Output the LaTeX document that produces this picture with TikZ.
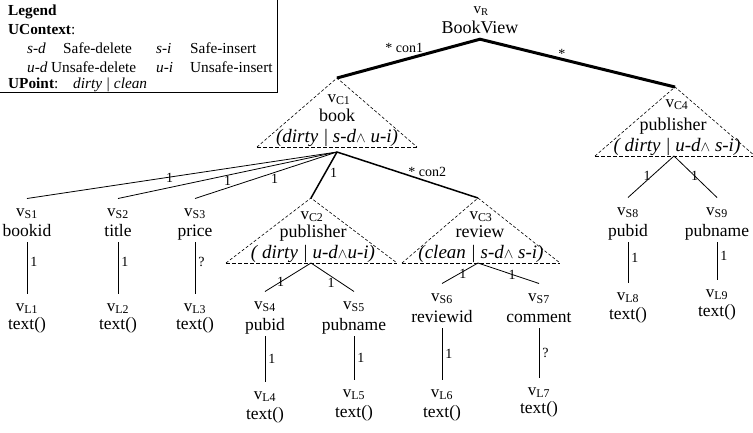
\documentclass[tikz,border=0pt]{standalone}
\usepackage{fontspec}
\setmainfont{Liberation Serif}
\usetikzlibrary{calc}
\newcommand{\andsym}{{\fontsize{15}{15}\selectfont$\wedge$}}
\tikzset{
  vx/.style = {anchor=base, inner xsep=0pt, inner ysep=9.5pt, font=\fontsize{17}{17}\selectfont},
  nm/.style = {anchor=base, inner xsep=0pt, inner ysep=6pt, text depth=0pt, font=\fontsize{17.5}{18}\selectfont},
  cnm/.style = {nm, font=\fontsize{18}{18}\selectfont},
  att/.style = {anchor=base, inner sep=0pt, font=\fontsize{19}{19}\selectfont\itshape},
  lbl/.style = {inner sep=1pt, font=\fontsize{14}{14}\selectfont},
  lgd/.style = {anchor=base west, inner sep=0pt, font=\fontsize{15.3}{16}\selectfont},
  triside/.style = {dash pattern=on 3pt off 2pt, line width=0.6pt},
  tribase/.style = {dash pattern=on 4pt off 2pt, line width=0.9pt},
  thinedge/.style = {line width=0.8pt},
  midedge/.style = {line width=1.5pt},
  heavyedge/.style = {line width=3pt, line join=miter},
}

\begin{document}
\begin{tikzpicture}[x=1pt, y=-1pt]
\useasboundingbox (0,0) rectangle (753,432);

% legend
\draw[line width=0.8pt] (-3,-3) rectangle (277,92);
\node[lgd] (lg) at (8,15) {\textbf{Legend}};
\node[lgd] (lgc) at (8,34) {\textbf{UContext}:};
\node[lgd] (lgsd) at (27,53) {\textit{s-d}};
\node[lgd] (lgsdt) at (63,53) {Safe-delete};
\node[lgd] (lgsi) at (156,53) {\textit{s-i}};
\node[lgd] (lgsit) at (190,53) {Safe-insert};
\node[lgd] (lgud) at (27,72) {\textit{u-d}};
\node[lgd] (lgudt) at (51,72) {Unsafe-delete};
\node[lgd] (lgui) at (156,72) {\textit{u-i}};
\node[lgd] (lguit) at (190,72) {Unsafe-insert};
\node[lgd] (lgp) at (8,88) {\textbf{UPoint}:};
\node[lgd] (lgpt) at (73,88) {\textit{dirty | clean}};

% root
\node[vx, inner ysep=0pt, font=\fontsize{15}{15}\selectfont] (r) at (481,13.5) {v\textsubscript{R}};
\node[nm, font=\fontsize{18}{18}\selectfont] (rn) at (480,33) {BookView};

% context nodes (triangles)
\coordinate (c1) at (337,78);
\coordinate (c1l) at (257,147);
\coordinate (c1r) at (417,147);
\coordinate (c1b) at (337,152);
\draw[triside] (c1l) -- (c1) -- (c1r);
\draw[tribase] (c1l) -- (c1r);
\node[vx] (c1v) at (339,102) {v\textsubscript{C1}};
\node[cnm] (c1n) at (337,121) {book};
\node[att] (c1a) at (337,142) {(dirty | s-d\andsym\ u-i)};

\coordinate (c2) at (311,198);
\coordinate (c2l) at (226,263);
\coordinate (c2r) at (397,263);
\coordinate (c2b) at (311,263);
\draw[triside] (c2l) -- (c2) -- (c2r);
\draw[tribase] (c2l) -- (c2r);
\node[vx] (c2v) at (312,219) {v\textsubscript{C2}};
\node[cnm] (c2n) at (313,237) {publisher};
\node[att] (c2a) at (313,258) {( dirty | u-d\andsym u-i)};

\coordinate (c3) at (478,198);
\coordinate (c3l) at (402,263);
\coordinate (c3r) at (560,263);
\coordinate (c3b) at (478,263);
\draw[triside] (c3l) -- (c3) -- (c3r);
\draw[tribase] (c3l) -- (c3r);
\node[vx] (c3v) at (481,219) {v\textsubscript{C3}};
\node[cnm] (c3n) at (480,237) {review};
\node[att] (c3a) at (481,258) {(clean | s-d\andsym\ s-i)};

\coordinate (c4) at (675,87);
\coordinate (c4l) at (595,156);
\coordinate (c4r) at (755,156);
\coordinate (c4b) at (674,156);
\draw[triside] (c4l) -- (c4) -- (c4r);
\draw[tribase] (c4l) -- (c4r);
\node[vx] (c4v) at (677,107) {v\textsubscript{C4}};
\node[cnm] (c4n) at (673,130) {publisher};
\node[att] (c4a) at (677,151) {( dirty | u-d\andsym\ s-i)};

% simple and leaf nodes
\node[vx] (s1) at (27,216) {v\textsubscript{S1}};
\node[nm] (s1n) at (27,236) {bookid};
\node[vx] (l1) at (27,311) {v\textsubscript{L1}};
\node[nm] (l1n) at (27,329) {text()};

\node[vx] (s2) at (118,216) {v\textsubscript{S2}};
\node[nm] (s2n) at (118,236) {title};
\node[vx] (l2) at (118,311) {v\textsubscript{L2}};
\node[nm] (l2n) at (118,329) {text()};

\node[vx] (s3) at (195,216) {v\textsubscript{S3}};
\node[nm] (s3n) at (195,236) {price};
\node[vx] (l3) at (195,311) {v\textsubscript{L3}};
\node[nm] (l3n) at (195,329) {text()};

\node[vx] (s4) at (265,309) {v\textsubscript{S4}};
\node[nm] (s4n) at (265,330) {pubid};
\node[vx] (l4) at (265,399) {v\textsubscript{L4}};
\node[nm] (l4n) at (265,419) {text()};

\node[vx] (s5) at (354,309) {v\textsubscript{S5}};
\node[nm] (s5n) at (354,330) {pubname};
\node[vx] (l5) at (354,397) {v\textsubscript{L5}};
\node[nm] (l5n) at (354,417) {text()};

\node[vx] (s6) at (442,301) {v\textsubscript{S6}};
\node[nm] (s6n) at (442,322) {reviewid};
\node[vx] (l6) at (442,397) {v\textsubscript{L6}};
\node[nm] (l6n) at (442,417) {text()};

\node[vx] (s7) at (539,301) {v\textsubscript{S7}};
\node[nm] (s7n) at (539,322) {comment};
\node[vx] (l7) at (539,395) {v\textsubscript{L7}};
\node[nm] (l7n) at (539,413) {text()};

\node[vx] (s8) at (628,215) {v\textsubscript{S8}};
\node[nm] (s8n) at (628,236) {pubid};
\node[vx] (l8) at (628,300) {v\textsubscript{L8}};
\node[nm] (l8n) at (628,319) {text()};

\node[vx] (s9) at (717,215) {v\textsubscript{S9}};
\node[nm] (s9n) at (717,236) {pubname};
\node[vx] (l9) at (717,297) {v\textsubscript{L9}};
\node[nm] (l9n) at (717,316) {text()};

% edges
\draw[heavyedge] (c1) -- node[lbl, pos=.47, above=5pt] {* con1} (rn.south) -- node[lbl, pos=.42, above=-2pt] {*} (c4);

\draw[thinedge] (c1b) -- (s1.north) node[lbl, pos=.54, yshift=-1pt] {1};
\draw[thinedge] (c1b) -- (s2.north) node[lbl, pos=.5, yshift=-6pt] {1};
\draw[thinedge] (c1b) -- (s3.north) node[lbl, pos=.44, yshift=-6pt] {1};
\draw[midedge] (c1b) -- (c2) node[lbl, pos=.45, right=3pt] {1};
\draw[midedge] (c1b) -- (c3) node[lbl, pos=.64, above=3pt] {* con2};

\draw[thinedge] (c2b) -- (s4.north) node[lbl, pos=.66] {1};
\draw[thinedge] (c2b) -- (s5.north) node[lbl, pos=.47, yshift=-6pt] {1};
\draw[thinedge] (c3b) -- (s6.north) node[lbl, pos=.42, yshift=-2pt] {1};
\draw[thinedge] (c3b) -- (s7.north) node[lbl, pos=.56] {1};
\draw[thinedge] (c4b) -- (s8.north) node[lbl, pos=.48, left=0pt] {1};
\draw[thinedge] (c4b) -- (s9.north) node[lbl, pos=.48] {1};

\draw[thinedge] (s1n.south) -- (l1.north) node[lbl, pos=.38, right=2pt] {1};
\draw[thinedge] (s2n.south) -- (l2.north) node[lbl, pos=.38, right=2pt] {1};
\draw[thinedge] (s3n.south) -- (l3.north) node[lbl, pos=.38, right=2pt] {?};
\draw[thinedge] (s4n.south) -- (l4.north) node[lbl, pos=.5, right=2pt] {1};
\draw[thinedge] (s5n.south) -- (l5.north) node[lbl, pos=.5, right=2pt] {1};
\draw[thinedge] (s6n.south) -- (l6.north) node[lbl, pos=.5, right=2pt] {1};
\draw[thinedge] (s7n.south) -- (l7.north) node[lbl, pos=.5, right=2pt] {?};
\draw[thinedge] (s8n.south) -- (l8.north) node[lbl, pos=.4, right=2pt] {1};
\draw[thinedge] (s9n.south) -- (l9.north) node[lbl, pos=.36, right=2pt] {1};
\end{tikzpicture}
\end{document}
